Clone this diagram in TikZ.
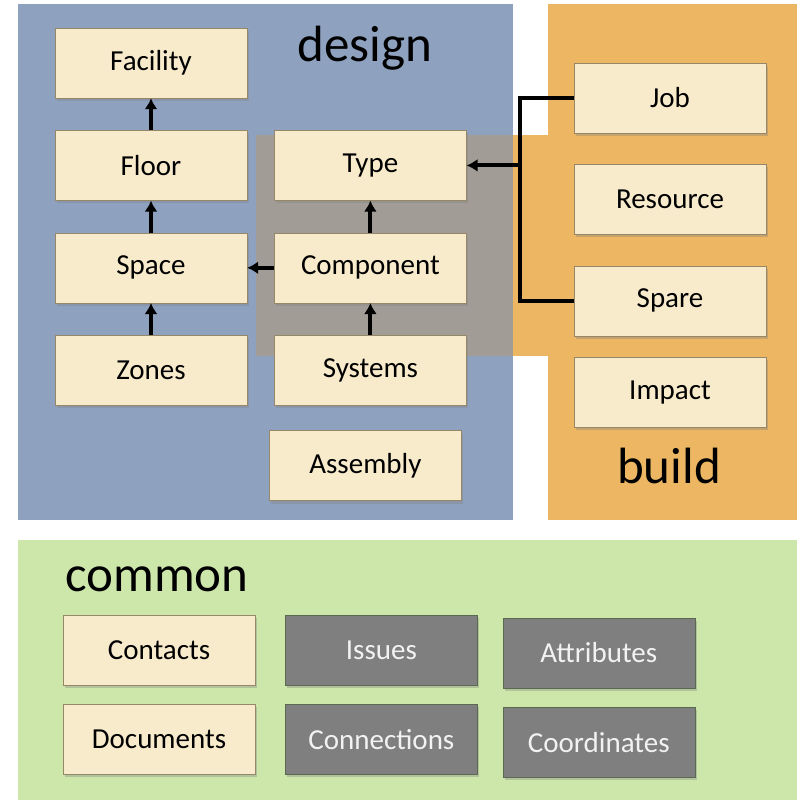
\documentclass[tikz,border=0pt]{standalone}
\usepackage{fontspec}
\setmainfont{Carlito}
\usetikzlibrary{arrows.meta,positioning,calc,shadows}

\definecolor{designblue}{RGB}{142,161,191}
\definecolor{buildorange}{RGB}{236,182,98}
\definecolor{commongreen}{RGB}{205,230,170}
\definecolor{overlaygray}{RGB}{162,156,150}
\definecolor{cream}{RGB}{248,235,204}
\definecolor{boxedge}{RGB}{150,135,105}
\definecolor{boxgray}{RGB}{127,127,127}
\definecolor{darkedge}{RGB}{90,105,80}

\begin{document}
\begin{tikzpicture}[x=1pt, y=-1pt, node distance=32pt,
    box/.style={rectangle, draw=boxedge, fill=cream, minimum width=192pt, minimum height=70pt, font=\fontsize{29}{34}\selectfont, drop shadow={shadow xshift=2pt, shadow yshift=-3pt, opacity=0.35}},
    box_dark/.style={box, draw=darkedge, fill=boxgray, text=white!95!black},
    title/.style={font=\fontsize{51}{60}\selectfont, anchor=base},
    line/.style={draw, -{Latex[length=11pt, width=13pt]}, line width=4pt},
    link/.style={draw, line width=4pt}]

    \useasboundingbox (0,0) rectangle (798,804);
    \fill[white] (0,0) rectangle (798,804);

    % Panels
    \fill[designblue] (18,4) rectangle (513,520);
    \fill[buildorange] (548,4) rectangle (797,520);
    \fill[buildorange] (513,135) rectangle (548,356);
    \fill[overlaygray] (256,135) rectangle (513,356);
    \fill[commongreen] (18,540) rectangle (797,800);

    \node [title] (design_lbl) at (365,61) {design};
    \node [title] (build_lbl) at (669,483) {build};
    \node [title] (common_lbl) at (157,591) {common};

    % Left side: design
    \node [box] (facility) at (151,63) {Facility};
    \node [box, below=of facility] (floor) {Floor};
    \node [box, below=of floor] (space) {Space};
    \node [box, below=of space] (zones) {Zones};

    \node [box, right=27pt of floor] (type) {Type};
    \node [box, below=of type] (component) {Component};
    \node [box, below=of component] (systems) {Systems};
    \node [box, below=25pt of systems, xshift=-5pt] (assembly) {Assembly};

    % Right side: build
    \node [box] (job) at (670,98) {Job};
    \node [box, below=31pt of job] (resource) {Resource};
    \node [box, below=31pt of resource] (spare) {Spare};
    \node [box, below=21pt of spare] (impact) {Impact};

    % Bottom: common
    \node [box] (contacts) at (159,650) {Contacts};
    \node [box, below=19pt of contacts] (documents) {Documents};
    \node [box_dark, right=30pt of contacts] (issues) {Issues};
    \node [box_dark, below=19pt of issues] (connections) {Connections};
    \node [box_dark, right=25pt of issues, yshift=-3pt] (attributes) {Attributes};
    \node [box_dark, below=19pt of attributes] (coordinates) {Coordinates};

    % Connectors
    \draw [line] (floor) -- (facility);
    \draw [line] (space) -- (floor);
    \draw [line] (zones) -- (space);
    \draw [line] (systems) -- (component);
    \draw [line] (component) -- (type);
    \draw [line] (component) -- (space);

    \coordinate (bus) at ($(type.east)+(53,0)$);
    \draw [link] (job.west) -| (bus) |- (spare.west);
    \draw [line] (bus) -- (type.east);
\end{tikzpicture}
\end{document}
